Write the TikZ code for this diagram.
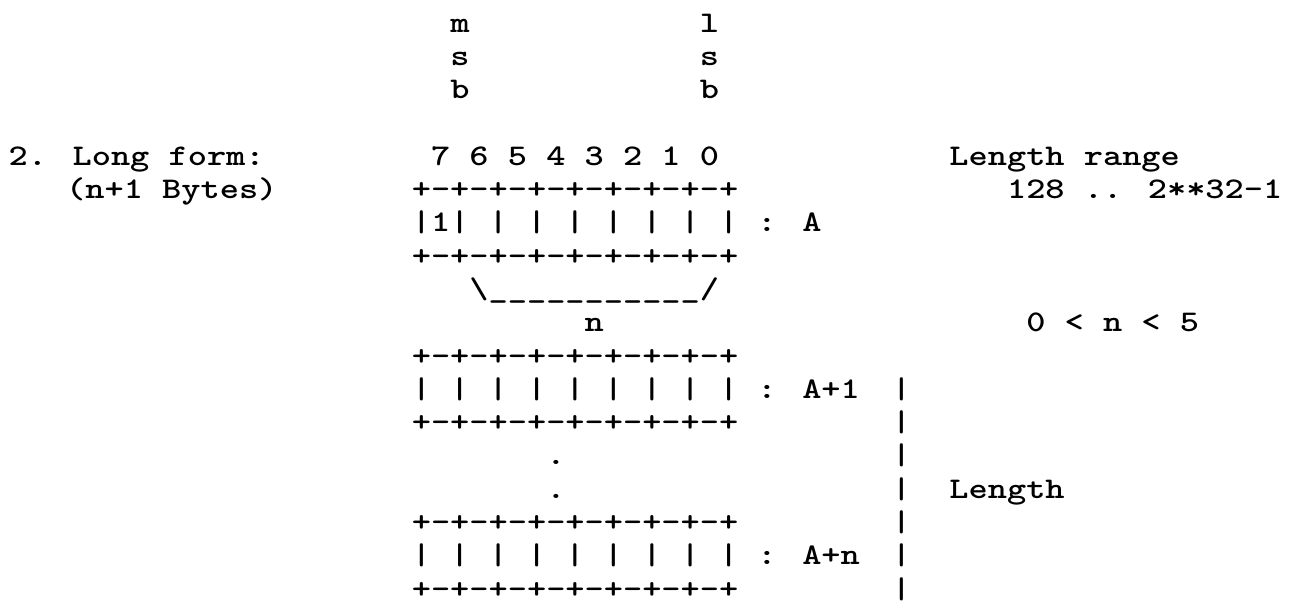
\documentclass[tikz,border=0pt]{standalone}
\usepackage{tikz}
\begin{document}
\begin{tikzpicture}[x=15.75pt,y=-33.3pt,xscale=1.219]
\tikzstyle{tt}=[font=\ttfamily\bfseries\fontsize{30}{36}\selectfont,
  inner sep=0pt,anchor=base west,transform shape]

\path[use as bounding box,fill=white] (-0.4375,-0.961) rectangle (66.75,17.447);

%% msb / lsb marks
\node[tt] (msbm) at (23,0) {m};
\node[tt] (msbs) at (23,1) {s};
\node[tt] (msbb) at (23,2) {b};
\node[tt] (lsbl) at (36,0) {l};
\node[tt] (lsbs) at (36,1) {s};
\node[tt] (lsbb) at (36,2) {b};

%% Left caption and bit numbers
\node[tt] (title) at (0,4) {2. Long form:};
\node[tt] (count) at (3,5) {(n+1 Bytes)};
\node[tt] (bitnums) at (22,4) {7 6 5 4 3 2 1 0};

%% Byte borders
\foreach \r in {5,7,10,12,15,17}
  \node[tt] (border\r) at (21,\r) {+-+-+-+-+-+-+-+-+};

%% Bytes
\node[tt] (byteA) at (21,6) {|1| | | | | | | | : A};
\node[tt] (brace) at (24,8) {\textbackslash\_\_\_\_\_\_\_\_\_\_\_/};
\node[tt] (nlabel) at (30,9) {n};
\node[tt] (byteAone) at (21,11) {| | | | | | | | | : A+1};
\node[tt] (dotone) at (28,13) {.};
\node[tt] (dottwo) at (28,14) {.};
\node[tt] (byteAn) at (21,16) {| | | | | | | | | : A+n};

%% Right notes
\node[tt] (rangehead) at (49,4) {Length range};
\node[tt] (rangeval) at (52,5) {128 .. 2**32-1};
\node[tt] (nrange) at (53,9) {0 < n < 5};
\foreach \r in {11,...,17}
  \node[tt] (lenbar\r) at (46,\r) {|};
\node[tt] (lenlabel) at (49,14) {Length};
\end{tikzpicture}
\end{document}
